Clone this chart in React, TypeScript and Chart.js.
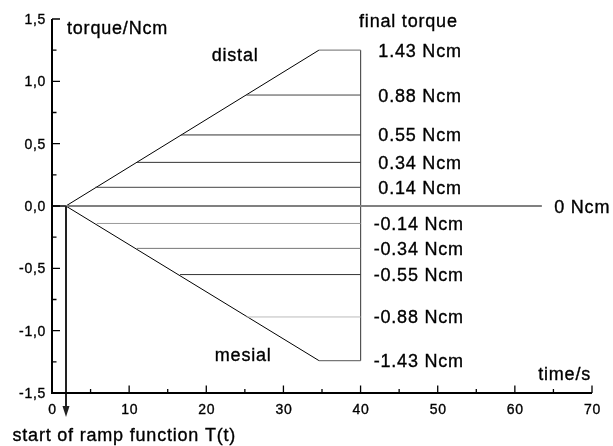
import React, { useEffect, useRef } from 'react';
import { Chart, registerables } from 'chart.js';

Chart.register(...registerables);

// ---- axes ----
const X_MIN = 0;
const X_MAX = 70;
const Y_MIN = -1.5;
const Y_MAX = 1.5;
const xMajorTicks = [0, 10, 20, 30, 40, 50, 60, 70];
const xTickLabels = ['0', '10', '20', '30', '40', '50', '60', '70'];
const xMinorTicks = [5, 15, 25, 35, 45, 55, 65];
const yMajorTicks = [-1.5, -1.0, -0.5, 0, 0.5, 1.0, 1.5];
const yTickLabels = ['-1,5', '-1,0', '-0,5', '0,0', '0,5', '1,0', '1,5'];
const yMinorTicks = [-1.25, -0.75, -0.25, 0.25, 0.75, 1.25];

// ---- ramp function ----
const rampStart = 1.8;
const rampEnd = 34.6;
const holdEnd = 40;
const distalPeak = 1.25;
const mesialPeak = -1.24;
const zeroLineEnd = 63.5;

// ---- final torque levels ----
const distalLevels = [0.89, 0.57, 0.35, 0.15];
const distalStarts = [25.2, 16.7, 11.0, 5.6];
const mesialLevels = [-0.14, -0.34, -0.55, -0.89];
const mesialStarts = [5.8, 11.0, 16.6, 25.2];
const distalLabels = ['1.43 Ncm', '0.88 Ncm', '0.55 Ncm', '0.34 Ncm', '0.14 Ncm'];
const mesialLabels = ['-0.14 Ncm', '-0.34 Ncm', '-0.55 Ncm', '-0.88 Ncm', '-1.43 Ncm'];

const distalColors = ['#444444', '#333333', '#333333', '#444444'];
const mesialColors = ['#999999', '#777777', '#333333', '#bbbbbb'];

const BIG_FONT = '18px "Liberation Sans", Arial, sans-serif';
const BIG_SP = '0.8px';
const TICK_FONT = '14px "Liberation Sans", Arial, sans-serif';
const TICK_SP = '0.7px';

function txt(ctx: CanvasRenderingContext2D, s: string, x: number, y: number, font: string, align: CanvasTextAlign, spacing: string) {
  ctx.save();
  ctx.font = font;
  (ctx as any).letterSpacing = spacing;
  ctx.textAlign = align;
  ctx.textBaseline = 'alphabetic';
  ctx.fillStyle = '#000';
  ctx.strokeStyle = '#000';
  ctx.lineWidth = 0.35;
  ctx.fillText(s, x, y);
  ctx.strokeText(s, x, y);
  ctx.restore();
}

const decorPlugin = {
  id: 'decor',
  afterDraw(chart: any) {
    const ctx: CanvasRenderingContext2D = chart.ctx;
    const xs = chart.scales.x;
    const ys = chart.scales.y;
    const area = chart.chartArea;
    const px = (v: number) => xs.getPixelForValue(v);
    const py = (v: number) => ys.getPixelForValue(v);

    ctx.save();
    // arrow (start of ramp)
    const ax = Math.round(px(rampStart));
    const tip = area.bottom + 24;
    ctx.strokeStyle = '#222';
    ctx.lineWidth = 2;
    ctx.beginPath();
    ctx.moveTo(ax, py(0));
    ctx.lineTo(ax, tip - 8);
    ctx.stroke();
    ctx.fillStyle = '#222';
    ctx.beginPath();
    ctx.moveTo(ax, tip);
    ctx.lineTo(ax - 3.5, tip - 11);
    ctx.lineTo(ax + 3.5, tip - 11);
    ctx.closePath();
    ctx.fill();

    // axes
    ctx.strokeStyle = '#000';
    ctx.lineWidth = 2;
    ctx.beginPath();
    ctx.moveTo(area.left, area.top);
    ctx.lineTo(area.left, area.bottom);
    ctx.lineTo(area.right, area.bottom);
    ctx.stroke();
    ctx.lineWidth = 1.3;
    ctx.beginPath();
    for (const v of yMajorTicks) {
      const y = py(v);
      ctx.moveTo(area.left, y);
      ctx.lineTo(area.left + 8, y);
    }
    for (const v of yMinorTicks) {
      const y = py(v);
      ctx.moveTo(area.left, y);
      ctx.lineTo(area.left + 4.5, y);
    }
    for (const v of xMajorTicks) {
      const x = px(v);
      ctx.moveTo(x, area.bottom);
      ctx.lineTo(x, area.bottom - 7.5);
    }
    for (const v of xMinorTicks) {
      const x = px(v);
      ctx.moveTo(x, area.bottom);
      ctx.lineTo(x, area.bottom - 4);
    }
    ctx.stroke();
    ctx.restore();

    yMajorTicks.forEach((v, i) => txt(ctx, yTickLabels[i], area.left - 6, py(v) + 5, TICK_FONT, 'right', TICK_SP));
    xMajorTicks.forEach((v, i) => txt(ctx, xTickLabels[i], px(v) + 0.5, area.bottom + 21, TICK_FONT, 'center', TICK_SP));

    // level labels
    const dY = [distalPeak, ...distalLevels];
    dY.forEach((v, i) => txt(ctx, distalLabels[i], px(42.3), py(v) + 6.5, BIG_FONT, 'left', BIG_SP));
    const mY = [...mesialLevels, mesialPeak];
    mY.forEach((v, i) => txt(ctx, mesialLabels[i], px(41.7), py(v) + 6.5, BIG_FONT, 'left', BIG_SP));
    txt(ctx, '0 Ncm', px(65.1), py(0) + 7, BIG_FONT, 'left', BIG_SP);

    txt(ctx, 'torque/Ncm', area.left + 15, area.top + 15, BIG_FONT, 'left', BIG_SP);
    txt(ctx, 'final torque', px(39.8), area.top + 8, BIG_FONT, 'left', BIG_SP);
    txt(ctx, 'distal', px(20.7), py(1.16), BIG_FONT, 'left', BIG_SP);
    txt(ctx, 'mesial', px(21.1), py(-1.244), BIG_FONT, 'left', BIG_SP);
    txt(ctx, 'time/s', area.right - 1, area.bottom - 13, BIG_FONT, 'right', BIG_SP);
    txt(ctx, 'start of ramp function T(t)', 12.5, area.bottom + 48, BIG_FONT, 'left', BIG_SP);
  },
};

function seg(x1: number, y1: number, x2: number, y2: number) {
  return [{ x: x1, y: y1 }, { x: x2, y: y2 }];
}

export default function App() {
  const ref = useRef<HTMLCanvasElement | null>(null);
  useEffect(() => {
    if (!ref.current) return;
    const base = { type: 'line', pointRadius: 0, fill: false, tension: 0 } as any;
    const datasets: any[] = [];
    // zero line
    datasets.push({ ...base, data: seg(rampStart, 0, zeroLineEnd, 0), borderColor: '#808080', borderWidth: 2 });
    // level lines
    distalLevels.forEach((v, i) => datasets.push({ ...base, data: seg(distalStarts[i], v, holdEnd, v), borderColor: distalColors[i], borderWidth: 1 }));
    mesialLevels.forEach((v, i) => datasets.push({ ...base, data: seg(mesialStarts[i], v, holdEnd, v), borderColor: mesialColors[i], borderWidth: 1 }));
    // holds
    datasets.push({ ...base, data: seg(rampEnd, distalPeak, holdEnd, distalPeak), borderColor: '#888888', borderWidth: 1.2 });
    datasets.push({ ...base, data: seg(rampEnd, mesialPeak, holdEnd, mesialPeak), borderColor: '#777777', borderWidth: 1.2 });
    // vertical at end of hold
    datasets.push({ ...base, data: seg(holdEnd, distalPeak, holdEnd, mesialPeak), borderColor: '#555555', borderWidth: 1 });
    // ramps
    datasets.push({ ...base, data: [{ x: X_MIN, y: 0 }, { x: rampStart, y: 0 }, { x: rampEnd, y: distalPeak }], borderColor: '#000', borderWidth: 1 });
    datasets.push({ ...base, data: [{ x: X_MIN, y: 0 }, { x: rampStart, y: 0 }, { x: rampEnd, y: mesialPeak }], borderColor: '#000', borderWidth: 1 });

    const chart = new Chart(ref.current, {
      type: 'line',
      data: { datasets },
      options: {
        animation: false,
        responsive: false,
        maintainAspectRatio: false,
        layout: { padding: { top: 19, right: 21, left: 0, bottom: 0 } },
        plugins: { legend: { display: false }, tooltip: { enabled: false } },
        scales: {
          x: {
            type: 'linear', min: X_MIN, max: X_MAX,
            grid: { display: false, drawTicks: false }, border: { display: false },
            ticks: { display: false },
            afterFit: (s: any) => { s.height = 53; },
          },
          y: {
            type: 'linear', min: Y_MIN, max: Y_MAX,
            grid: { display: false, drawTicks: false }, border: { display: false },
            ticks: { display: false },
            afterFit: (s: any) => { s.width = 52; },
          },
        },
      } as any,
      plugins: [decorPlugin],
    });
    return () => chart.destroy();
  }, []);
  return (
    <div style={{ position: 'absolute', left: 0, top: 0, width: 613, height: 446, background: '#fff' }}>
      <canvas ref={ref} width={613} height={446} style={{ display: 'block', width: 613, height: 446 }} />
    </div>
  );
}
